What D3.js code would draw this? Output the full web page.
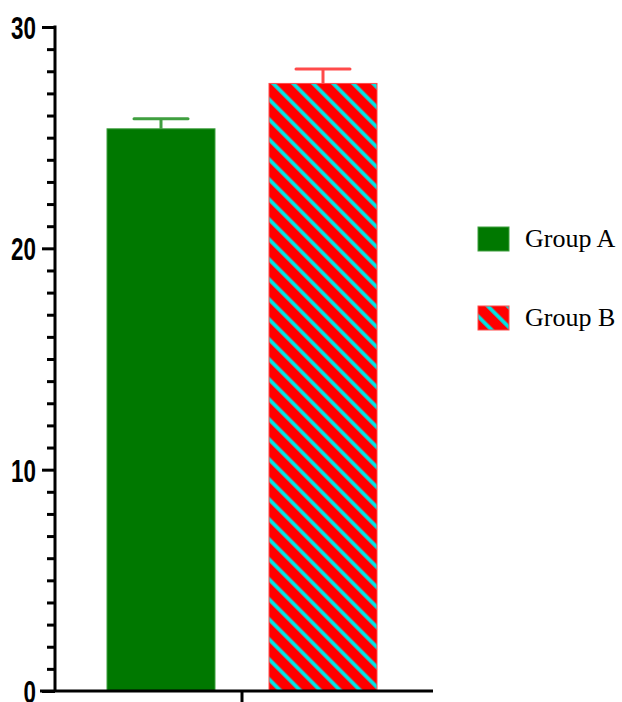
<!DOCTYPE html>
<html>
<head>
<meta charset="utf-8">
<script src="https://cdn.jsdelivr.net/npm/d3@7"></script>
<style>
    body { margin: 0; background: #fff; }
    .tick-label { font-family: "Liberation Sans", Arial, sans-serif; font-weight: bold; font-size: 32px; }
    .legend-label { font-family: "Liberation Serif", "Times New Roman", serif; font-size: 26px; }
</style>
</head>
<body>
<div id="chart"></div>
<script>
// data
let groups = ["Group A", "Group B"];
let means = [25.4, 27.45];
let errors = [0.45, 0.65];
let majorTicks = [0, 10, 20, 30];
let minorTicks = d3.range(0, 31, 1);

let colors = {
    a: '#007800',
    aErr: '#3f9f3f',
    b: '#ff0000',
    bErr: '#ff4a4a',
    stripe: '#00e5e5'
};

let width = 622, height = 702;

let svg = d3.select("#chart").append("svg")
    .attr("width", width)
    .attr("height", height);

// hatch pattern for group B
let defs = svg.append("defs");
let pat = defs.append("pattern")
    .attr("id", "hatch")
    .attr("patternUnits", "userSpaceOnUse")
    .attr("width", 14.14)
    .attr("height", 14.14)
    .attr("patternTransform", "rotate(-45)");
pat.append("rect")
    .attr("width", 14.14).attr("height", 14.14)
    .attr("fill", colors.b);
pat.append("rect")
    .attr("x", 5).attr("width", 3.8).attr("height", 14.14)
    .attr("fill", colors.stripe);

// scales
let y = d3.scaleLinear()
    .domain([0, 30])
    .range([691, 27]);

let x = d3.scaleBand()
    .domain(groups)
    .range([80, 404])
    .paddingInner(1 / 3)
    .paddingOuter(1 / 6);

let axisX = 55;
let squeeze = 0.7; // tick labels are narrow in the original

// minor ticks
svg.append("g")
    .attr("transform", "translate(" + axisX + ",0)")
    .call(d3.axisLeft(y).tickValues(minorTicks.filter(d => d % 10 !== 0)).tickSize(8).tickFormat(""))
    .call(g => g.select(".domain").remove())
    .selectAll("line")
    .attr("stroke", "#000")
    .attr("stroke-width", 3);

// major ticks + labels
let yAxisG = svg.append("g")
    .attr("transform", "translate(" + axisX + ",0)")
    .call(d3.axisLeft(y).tickValues(majorTicks).tickSize(13).tickSizeOuter(0).tickFormat(d3.format("d")));
yAxisG.select(".domain").remove();
yAxisG.selectAll("line").attr("stroke", "#000").attr("stroke-width", 3);
yAxisG.selectAll("text")
    .attr("class", "tick-label")
    .attr("fill", "#000")
    .attr("text-anchor", "end")
    .attr("x", -19 / squeeze)
    .attr("dy", "0.36em")
    .attr("transform", "scale(" + squeeze + ",1)");

// y axis line
svg.append("line")
    .attr("x1", axisX).attr("x2", axisX)
    .attr("y1", y(30) - 1.5).attr("y2", y(0))
    .attr("stroke", "#000")
    .attr("stroke-width", 3);

// bars
svg.selectAll(".bar")
    .data(groups)
    .enter()
    .append("rect")
    .attr("class", "bar")
    .attr("x", d => x(d))
    .attr("y", (d, i) => y(means[i]))
    .attr("width", x.bandwidth())
    .attr("height", (d, i) => y(0) - y(means[i]))
    .attr("fill", (d, i) => i === 0 ? colors.a : "url(#hatch)")
    .attr("stroke", (d, i) => i === 0 ? colors.aErr : colors.bErr)
    .attr("stroke-width", 1);

// error bars (upper only)
let errG = svg.selectAll(".err")
    .data(groups)
    .enter()
    .append("g")
    .attr("class", "err")
    .attr("stroke", (d, i) => i === 0 ? colors.aErr : colors.bErr)
    .attr("stroke-width", 3);

errG.append("line")
    .attr("x1", d => x(d) + x.bandwidth() / 2)
    .attr("x2", d => x(d) + x.bandwidth() / 2)
    .attr("y1", (d, i) => y(means[i]))
    .attr("y2", (d, i) => y(means[i] + errors[i]));

errG.append("line")
    .attr("x1", d => x(d) + x.bandwidth() / 4)
    .attr("x2", d => x(d) + x.bandwidth() * 3 / 4)
    .attr("y1", (d, i) => y(means[i] + errors[i]))
    .attr("y2", (d, i) => y(means[i] + errors[i]))
    .attr("stroke-linecap", "round");

// x axis
svg.append("line")
    .attr("x1", 40).attr("x2", 433)
    .attr("y1", y(0)).attr("y2", y(0))
    .attr("stroke", "#000")
    .attr("stroke-width", 3);

let midX = (x(groups[0]) + x(groups[1]) + x.bandwidth()) / 2;
svg.append("line")
    .attr("x1", midX).attr("x2", midX)
    .attr("y1", y(0)).attr("y2", y(0) + 12)
    .attr("stroke", "#000")
    .attr("stroke-width", 3);

// legend
let legend = svg.selectAll(".legend")
    .data(groups)
    .enter()
    .append("g")
    .attr("class", "legend")
    .attr("transform", (d, i) => "translate(478," + (227 + i * 79) + ")");

legend.append("rect")
    .attr("width", 31)
    .attr("height", 24)
    .attr("fill", (d, i) => i === 0 ? colors.a : "url(#hatch)")
    .attr("stroke", (d, i) => i === 0 ? colors.aErr : colors.bErr)
    .attr("stroke-width", 1);

legend.append("text")
    .attr("class", "legend-label")
    .attr("x", 47)
    .attr("y", 20)
    .text(d => d);
</script>
</body>
</html>
